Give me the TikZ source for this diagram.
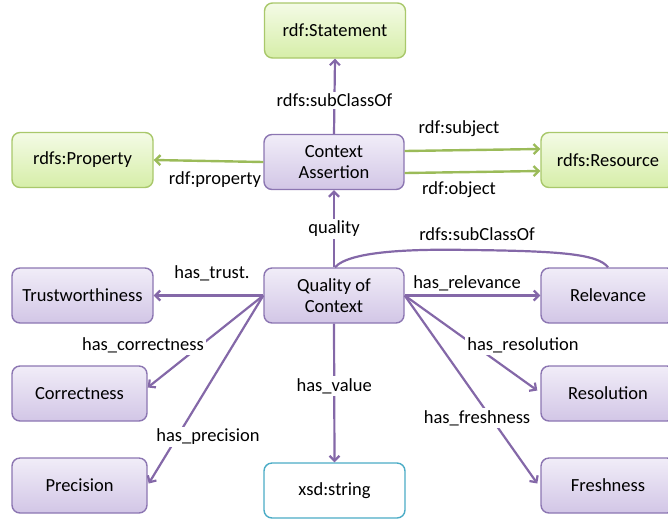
\documentclass[tikz,border=0pt]{standalone}
\usepackage{fontspec}
\setmainfont{Carlito}
\usetikzlibrary{arrows.meta,calc}
\definecolor{pborder}{HTML}{8C76B2}
\definecolor{ptop}{HTML}{F1EDF8}
\definecolor{pbot}{HTML}{D2C6E6}
\definecolor{gborder}{HTML}{A9C86B}
\definecolor{gtop}{HTML}{F4FBE6}
\definecolor{gbot}{HTML}{D6EEA8}
\definecolor{parrow}{HTML}{8468A8}
\definecolor{garrow}{HTML}{9BBB59}
\definecolor{tborder}{HTML}{4BACC6}
\tikzset{
  basebox/.style={rounded corners=8pt, line width=1.4pt, minimum height=55pt, align=center, inner sep=2pt,
    font=\fontsize{18.5}{21}\selectfont},
  pbox/.style={basebox, draw=pborder, top color=ptop, bottom color=pbot},
  gbox/.style={basebox, draw=gborder, top color=gtop, bottom color=gbot},
  tbox/.style={basebox, draw=tborder, fill=white},
  parr/.style={draw=parrow, line width=2.2pt, -{Straight Barb[length=5pt,width=10pt]}},
  garr/.style={draw=garrow, line width=2.4pt, -{Straight Barb[length=5pt,width=10pt]}},
  lbl/.style={font=\fontsize{18.5}{21}\selectfont, inner sep=2pt},
  wlbl/.style={lbl, fill=white}
}
\begin{document}
\begin{tikzpicture}[x=1pt,y=-1pt]
\useasboundingbox (0,0) rectangle (668,523);
% nodes
\node[gbox, minimum width=141pt] (stmt) at (335,30.5) {rdf:Statement};
\node[gbox, minimum width=141pt] (prop) at (82.5,160) {rdfs:Property};
\node[pbox, minimum width=140pt] (ca) at (334,162) {Context\\Assertion};
\node[gbox, minimum width=134pt] (res) at (608,160) {rdfs:Resource};
\node[pbox, minimum width=140pt] (qoc) at (334,295.5) {Quality of\\Context};
\node[pbox, minimum width=141pt] (trust) at (82.5,295.5) {Trustworthiness};
\node[pbox, minimum width=135pt] (corr) at (79.5,393.5) {Correctness};
\node[pbox, minimum width=135pt] (prec) at (79.5,485.5) {Precision};
\node[tbox, minimum width=141pt] (xsd) at (334.5,490.5) {xsd:string};
\node[pbox, minimum width=134pt] (rel) at (608,295.5) {Relevance};
\node[pbox, minimum width=134pt] (reso) at (608,393.5) {Resolution};
\node[pbox, minimum width=134pt] (fresh) at (608,485.5) {Freshness};
% connectors
\draw[parr] (ca.north) -- node[wlbl, pos=0.45] {rdfs:subClassOf} (stmt.south);
\draw[garr] (ca.west) -- (prop.east);
\node[lbl] (lprop) at (215,180) {rdf:property};
\draw[garr] ($(ca.east)+(0,-11)$) -- ($(res.west)+(0,-11)$);
\draw[garr] ($(ca.east)+(0,11)$) -- ($(res.west)+(0,11)$);
\node[lbl] (lsubj) at (459,129) {rdf:subject};
\node[lbl] (lobj) at (459,190) {rdf:object};
\draw[parr] (qoc.north) -- node[wlbl] {quality} (ca.south);
\draw[draw=parrow, line width=2.2pt] ($(qoc.north)+(1,0)$) .. controls (350,250) and (420,249) .. (470,250) .. controls (560,251) and (598,254) .. (rel.north);
\node[lbl] (lsub2) at (477,234) {rdfs:subClassOf};
\draw[parr] (qoc.west) -- (trust.east);
\node[lbl] (ltrust) at (212,273) {has\_trust.};
\draw[parr] (qoc.west) -- ($(corr.east)+(0,-6)$);
\node[wlbl] (lcorr) at (143,345) {has\_correctness};
\draw[parr] (qoc.west) -- ($(prec.east)+(1,-2)$);
\node[wlbl] (lprec) at (208,437) {has\_precision};
\draw[parr] (qoc.south) -- node[wlbl, pos=0.45] {has\_value} (xsd.north);
\draw[parr] (qoc.east) -- (rel.west);
\node[lbl] (lrel) at (467,283) {has\_relevance};
\draw[parr] (qoc.east) -- ($(reso.west)+(-3,-3)$);
\node[wlbl] (lreso) at (523,345) {has\_resolution};
\draw[parr] (qoc.east) -- ($(fresh.west)+(-3,-2)$);
\node[wlbl] (lfresh) at (477,418) {has\_freshness};
\end{tikzpicture}
\end{document}
